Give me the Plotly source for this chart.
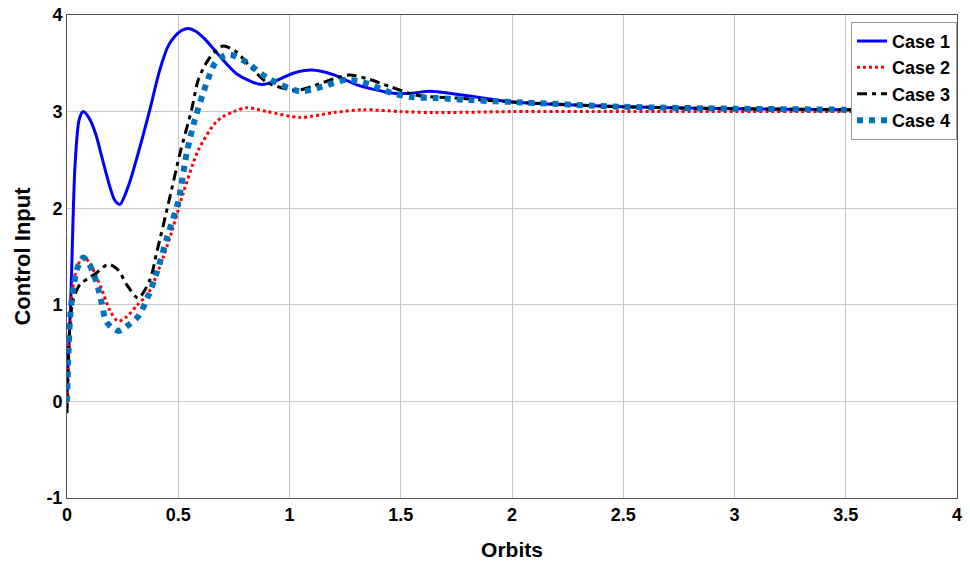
import plotly.graph_objects as go

# Case 1 (blue solid)
x1 = [0, 0.005, 0.017, 0.036, 0.055, 0.073, 0.1, 0.13, 0.16, 0.193, 0.215, 0.238, 0.276, 0.32, 0.37, 0.418, 0.455,
      0.485, 0.515, 0.545, 0.58, 0.62, 0.673, 0.763, 0.875, 0.95, 1.02, 1.1, 1.2, 1.3, 1.467, 1.55, 1.63, 1.75,
      1.9, 2.0, 2.25, 2.5, 3.0, 3.5, 4.0]
y1 = [0, 0.4, 1.05, 2.44, 2.92, 3.0, 2.93, 2.76, 2.5, 2.22, 2.08, 2.04, 2.23, 2.57, 3.0, 3.44, 3.68,
      3.78, 3.84, 3.86, 3.83, 3.75, 3.61, 3.39, 3.28, 3.33, 3.4, 3.43, 3.38, 3.28, 3.19, 3.19, 3.21, 3.18,
      3.13, 3.1, 3.07, 3.05, 3.03, 3.02, 3.01]

# Case 2 (red dotted)
x2 = [0, 0.01, 0.02, 0.035, 0.055, 0.075, 0.1, 0.13, 0.163, 0.193, 0.23, 0.27, 0.313, 0.365, 0.418, 0.47, 0.523, 0.59,
      0.665, 0.703, 0.75, 0.807, 0.9, 1.047, 1.2, 1.33, 1.5, 1.65, 2.0, 2.5, 3.0, 4.0]
y2 = [0, 0.6, 1.05, 1.3, 1.44, 1.49, 1.44, 1.3, 1.12, 0.94, 0.83, 0.88, 0.99, 1.12, 1.4, 1.75, 2.16, 2.6,
      2.88, 2.95, 3.0, 3.04, 3.0, 2.94, 2.99, 3.02, 3.0, 2.99, 3.0, 3.0, 3.0, 3.0]

# Case 3 (black dash-dot)
x3 = [0, 0.006, 0.015, 0.028, 0.058, 0.1, 0.133, 0.186, 0.23, 0.268, 0.32, 0.373, 0.403,
      0.455, 0.508, 0.56, 0.59, 0.63, 0.673, 0.703, 0.76, 0.83, 0.9, 1.03, 1.1, 1.2, 1.27, 1.35, 1.45, 1.57,
      1.75, 2.0, 2.5, 3.0, 3.5, 4.0]
y3 = [-0.12, 0.45, 0.85, 1.05, 1.21, 1.28, 1.33, 1.42, 1.36, 1.21, 1.07, 1.26, 1.54,
      2.04, 2.57, 3.02, 3.33, 3.52, 3.64, 3.68, 3.62, 3.45, 3.3, 3.22, 3.26, 3.34, 3.38, 3.34, 3.26, 3.17,
      3.14, 3.1, 3.05, 3.03, 3.02, 3.01]

# Case 4 (thick blue dotted)
x4 = [0, 0.005, 0.015, 0.03, 0.05, 0.073, 0.1, 0.133, 0.156, 0.178, 0.23, 0.27, 0.32, 0.365, 0.403, 0.45, 0.5, 0.538,
      0.575, 0.628, 0.665, 0.7, 0.733, 0.8, 0.9, 1.047, 1.15, 1.257, 1.35, 1.45, 1.55, 1.66, 1.8, 2.0, 2.5,
      3.0, 3.5, 4.0]
y4 = [0, 0.4, 0.9, 1.2, 1.4, 1.49, 1.42, 1.23, 1.02, 0.82, 0.73, 0.78, 0.88, 1.09, 1.33, 1.7, 2.07, 2.57,
      2.92, 3.3, 3.5, 3.57, 3.59, 3.52, 3.35, 3.21, 3.26, 3.33, 3.29, 3.2, 3.15, 3.14, 3.12, 3.1, 3.05,
      3.03, 3.02, 3.01]

x_ticks = [0, 0.5, 1, 1.5, 2, 2.5, 3, 3.5, 4]
x_tick_labels = ["0", "0.5", "1", "1.5", "2", "2.5", "3", "3.5", "4"]
y_ticks = [-1, 0, 1, 2, 3, 4]
y_tick_labels = ["-1", "0", "1", "2", "3", "4"]

FONT = "Liberation Sans, Arial, sans-serif"

fig = go.Figure()
fig.add_trace(go.Scatter(x=x1, y=y1, name="Case 1", mode="lines",
                         line=dict(color="#0000FF", width=3, shape="spline", smoothing=0.8)))
fig.add_trace(go.Scatter(x=x2, y=y2, name="Case 2", mode="lines",
                         line=dict(color="#FF0000", width=3, dash="dot", shape="spline", smoothing=0.8)))
fig.add_trace(go.Scatter(x=x3, y=y3, name="Case 3", mode="lines",
                         line=dict(color="#000000", width=3, dash="10px,5px,4px,5px", shape="spline", smoothing=0.8)))
fig.add_trace(go.Scatter(x=x4, y=y4, name="Case 4", mode="lines",
                         line=dict(color="#0072BD", width=6, dash="dot", shape="spline", smoothing=0.8)))

fig.update_layout(
    width=970, height=572,
    margin=dict(l=67, r=13, t=15, b=74, autoexpand=False),
    paper_bgcolor="white", plot_bgcolor="white",
    font=dict(family=FONT, color="black"),
    showlegend=True,
    legend=dict(x=1, y=0.986, xanchor="right", yanchor="top",
                bgcolor="white", bordercolor="#999999", borderwidth=1,
                font=dict(family=FONT, size=18, color="black", weight="bold"),
                tracegroupgap=0, itemwidth=30),
    xaxis=dict(range=[0, 4], tickvals=x_ticks, ticktext=x_tick_labels, automargin=False,
               ticklabeloverflow="allow",
               showgrid=True, gridcolor="#C8C8C8", gridwidth=1,
               zeroline=False, showline=True, linecolor="#555555", linewidth=1, mirror=True,
               ticks="", tickfont=dict(family=FONT, size=18, weight="bold"),
               title=dict(text="Orbits", font=dict(family=FONT, size=21, weight="bold"), standoff=18)),
    yaxis=dict(range=[-1, 4], tickvals=y_ticks, ticktext=y_tick_labels, automargin=False,
               ticklabeloverflow="allow",
               showgrid=True, gridcolor="#C8C8C8", gridwidth=1,
               zeroline=False, showline=True, linecolor="#555555", linewidth=1, mirror=True,
               ticks="", tickfont=dict(family=FONT, size=18, weight="bold"),
               title=dict(text="Control Input", font=dict(family=FONT, size=22, weight="bold"), standoff=9)),
)

# remove the browser's default 8px body margin so the figure sits at the page origin
fig.write_html("out.html",
               config={"displayModeBar": False},
               post_script="document.body.style.margin='0';document.body.style.overflow='hidden';")
